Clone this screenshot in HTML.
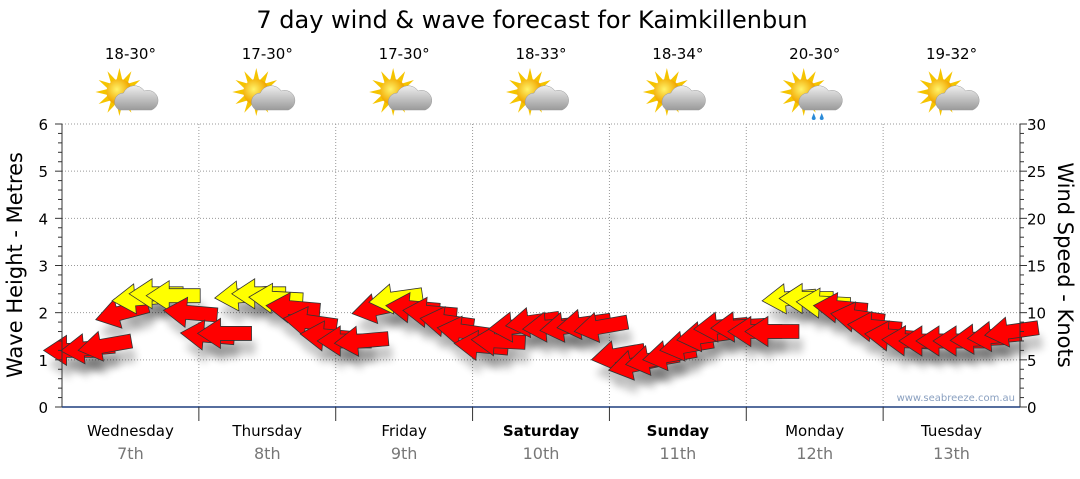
<!DOCTYPE html>
<html><head><meta charset="utf-8"><style>
body{margin:0;background:#fff;width:1080px;height:475px;overflow:hidden;font-family:"DejaVu Sans","Liberation Sans",sans-serif}
</style></head><body>
<svg id="c" width="1080" height="475" xmlns="http://www.w3.org/2000/svg">
<defs>
<filter id="sh" x="-50%" y="-50%" width="200%" height="250%"><feGaussianBlur stdDeviation="4"/></filter>
<radialGradient id="sun" cx="40%" cy="40%"><stop offset="0" stop-color="#fff36a"/><stop offset="1" stop-color="#f2a800"/></radialGradient>
<linearGradient id="cl" x1="0" y1="0" x2="0" y2="1"><stop offset="0" stop-color="#eeeeee"/><stop offset="1" stop-color="#9a9a9a"/></linearGradient>
</defs>
<text x="532" y="28" text-anchor="middle" font-size="24" fill="#000">7 day wind &amp; wave forecast for Kaimkillenbun</text>
<g id="grid"></g>
<g id="shadows"></g>
<g id="arrows"></g>
<g id="axes"></g>
<text x="1015" y="401" text-anchor="end" font-size="10" fill="#8aa0c0">www.seabreeze.com.au</text>
<text transform="translate(22,265) rotate(-90)" text-anchor="middle" font-size="21">Wave Height - Metres</text>
<text transform="translate(1058,265) rotate(90)" text-anchor="middle" font-size="21">Wind Speed - Knots</text>
</svg>
<script>
const days=["Wednesday","Thursday","Friday","Saturday","Sunday","Monday","Tuesday"];
const dates=["7th","8th","9th","10th","11th","12th","13th"];
const bold=[false,false,false,true,true,false,false];
const temps=["18-30°","17-30°","17-30°","18-33°","18-34°","20-30°","19-32°"];
const rainy=[false,false,false,false,false,true,false];
const waveTicks=[0,1,2,3,4,5,6];
const windTicks=[0,5,10,15,20,25,30];
const windSpeed=[6,6.2,6.5,10,11.5,12,11.8,10, 7.6,7.8,11.8,12,11.5,10.5,9,7.5, 7,7,10.5,11.5,10.5,10,9,8, 6.5,7,8.5,9,8.5,8.5,8.8,8.5, 5.5,4.5,5,5.5,6.5,7.5,8.5,8.5, 8,8,11.5,11.5,11,10.5,9.5,8.5, 7.5,7,7,7,7,7.2,7.5,8];
const windDir=[0,-5,-10,-15,-5,0,0,5, 5,0,-5,0,3,5,8,5, 0,-5,-12,-8,5,5,8,8, 5,3,-5,-8,-5,-8,-8,-10, -10,-12,-10,-10,-10,-8,-5,-3, 0,0,-5,0,3,5,8,5, 5,3,0,0,0,-3,-5,-8];
const NS="http://www.w3.org/2000/svg";
const X0=62,X1=1020,Y0=407,Y1=124,DW=(X1-X0)/7;
const yW=v=>Y0-(v/6)*(Y0-Y1), yK=v=>Y0-(v/30)*(Y0-Y1);
const xI=i=>X0+(i+0.5)*DW/8;
function mk(t,a,p){const e=document.createElementNS(NS,t);for(const k in a)e.setAttribute(k,a[k]);(p||document.getElementById('c')).appendChild(e);return e;}
const grid=document.getElementById('grid'),axes=document.getElementById('axes');
waveTicks.forEach(v=>{if(v>0){const l=mk('line',{x1:X0,x2:X1,y1:yW(v),y2:yW(v),stroke:'#999','stroke-dasharray':'1,2'},grid);}
 const t=mk('text',{x:48,y:yW(v)+6,'text-anchor':'end','font-size':15},axes);t.textContent=v;});
windTicks.forEach(v=>{const t=mk('text',{x:1027,y:yK(v)+6,'font-size':15},axes);t.textContent=v;});
for(let m=0;m<=30;m++){const y=Y0-m*(Y0-Y1)/30;const big=m%5==0;mk('line',{x1:X0-(big?7:4),x2:X0,y1:y,y2:y,stroke:'#333'},axes);mk('line',{x1:X1,x2:X1+(big?7:4),y1:y,y2:y,stroke:'#333'},axes);}
mk('line',{x1:X0,x2:X0,y1:Y1,y2:Y0,stroke:'#333'},axes);mk('line',{x1:X1,x2:X1,y1:Y1,y2:Y0,stroke:'#333'},axes);
mk('line',{x1:X0,x2:X1,y1:Y0,y2:Y0,stroke:'#1f3f7f','stroke-width':1.5},axes);
for(let d=0;d<7;d++){
 const cx=X0+(d+0.5)*DW;
 if(d>0){const l=mk('line',{x1:X0+d*DW,x2:X0+d*DW,y1:Y1,y2:Y0,stroke:'#999','stroke-dasharray':'1,2'},grid);
  mk('line',{x1:X0+d*DW,x2:X0+d*DW,y1:Y0,y2:Y0+14,stroke:'#333'},axes);}
 const t=mk('text',{x:cx,y:436,'text-anchor':'middle','font-size':15,'font-weight':bold[d]?'bold':'normal'},axes);t.textContent=days[d];
 const t2=mk('text',{x:cx,y:459,'text-anchor':'middle','font-size':16,fill:'#777'},axes);t2.textContent=dates[d];
 const t3=mk('text',{x:cx,y:59,'text-anchor':'middle','font-size':15},axes);t3.textContent=temps[d];
 const g=mk('g',{transform:`translate(${cx-3},96)`},axes);
 for(let r=0;r<12;r++){const a=r*Math.PI/6;mk('polygon',{points:`${-8+24*Math.cos(a)},${-4+24*Math.sin(a)} ${-8+12*Math.cos(a+0.25)},${-4+12*Math.sin(a+0.25)} ${-8+12*Math.cos(a-0.25)},${-4+12*Math.sin(a-0.25)}`,fill:'#f5c400'},g);}
 mk('circle',{cx:-8,cy:-4,r:13,fill:'url(#sun)'},g);
 mk('path',{d:'M-8,14 a9,9 0 0 1 4,-17 a12,12 0 0 1 21,-2 a9,9 0 0 1 7,19 z',fill:'url(#cl)',stroke:'#999','stroke-width':0.5},g);
 if(rainy[d]){mk('path',{d:'M2,17 l-2,5 a2,2 0 0 0 4,0z M10,17 l-2,5 a2,2 0 0 0 4,0z',fill:'#2a8ad8'},g);}
}
const sh=document.getElementById('shadows'),ar=document.getElementById('arrows');
const shape='M-27,0 L-4,-15 L-4,-7 L27,-7 L27,7 L-4,7 L-4,15 Z';
for(let i=0;i<windSpeed.length;i++){
 const x=xI(i),y=yK(windSpeed[i]);
 mk('path',{d:shape,fill:'#000',opacity:0.22,filter:'url(#sh)',transform:`translate(${x+4},${y+14}) rotate(${windDir[i]})`},sh);
}
for(let i=0;i<windSpeed.length;i++){
 const x=xI(i),y=yK(windSpeed[i]);
 const p=mk('path',{d:shape,fill:windSpeed[i]>=11?'#ffff00':'#ff0000',stroke:'#333','stroke-width':0.8,transform:`translate(${x},${y}) rotate(${windDir[i]})`},ar);
 
 
}
</script>
</body></html>
